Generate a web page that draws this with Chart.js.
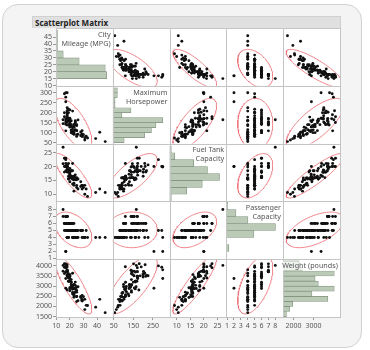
<!DOCTYPE html>
<html><head><meta charset="utf-8">
<script src="https://cdn.jsdelivr.net/npm/chart.js@4.4.1/dist/chart.umd.min.js"></script>
<style>
html,body{margin:0;padding:0;background:#fff;}
#wrap{position:relative;width:370px;height:350px;overflow:hidden;}
#frame{position:absolute;left:2px;top:4px;width:360px;height:344px;border:1px solid #d2d2d2;border-radius:16px;background:#f4f4f4;box-sizing:border-box;}
#title{position:absolute;left:32px;top:16px;width:309px;height:12px;background:#e0e0e0;border:1px solid #d0d0d0;border-bottom:none;box-sizing:border-box;font:bold 8px 'Noto Sans',sans-serif;color:#222;line-height:11px;padding-left:2px;}
canvas{position:absolute;left:0;top:0;}
</style></head>
<body><div id="wrap"><div id="frame"></div><div id="title">Scatterplot Matrix</div><canvas id="c" width="370" height="350"></canvas></div>
<script>
// ---- data (Cars, 93 models) ----
const mpgCity = [25,18,20,19,22,22,19,16,19,16,16,25,25,19,21,18,15,17,17,20,23,20,29,23,22,17,21,18,29,20,31,23,22,22,24,15,21,18,46,30,24,42,24,29,22,26,20,17,18,18,17,18,29,28,26,18,17,20,19,23,19,29,18,29,24,17,21,24,23,18,19,23,31,23,19,19,19,20,28,33,25,23,39,32,25,22,18,25,17,21,18,21,20];
const horsepower = [140,200,172,172,208,110,170,180,170,200,295,110,110,160,110,170,165,170,300,153,141,147,92,93,100,142,100,300,92,214,63,127,96,105,115,145,140,190,55,90,160,102,140,81,124,92,128,278,185,225,160,210,82,103,164,155,255,130,217,100,140,92,202,110,150,151,160,155,110,170,170,92,74,110,160,200,170,140,85,73,90,130,70,82,135,130,138,81,109,134,178,114,168];
const fuelTank = [13.2,18,16.9,21.1,21.1,16.4,18,23,18.8,18,20,15.2,15.6,15.5,16.5,20,27,23,20,18,16,16,13.2,14,16,20,16,19.8,13.2,18,10,13.2,15.9,15.4,15.5,21,16,20,10.6,12.4,15.9,11.9,17,11.9,13.7,11.9,17.2,22.5,18.5,20.6,18.4,20,13.2,14.5,15.5,19.6,20,14.5,18.5,11.1,18,13.2,19,13.2,15.9,20,18.5,15.2,16.5,20,18,15.9,13.2,15.2,15.5,16.5,18,18,12.8,9.2,15.9,15.9,10.6,11.9,15.9,18.5,19.8,12.4,21.1,18.5,18.5,15.8,19.3];
const passengers = [5,5,5,6,4,6,6,6,5,6,5,5,5,4,6,7,8,6,2,6,6,6,5,5,6,7,6,4,5,6,4,5,5,4,4,7,5,6,4,4,4,4,4,5,5,4,5,5,5,4,6,6,4,5,5,7,2,5,5,4,5,5,5,5,5,7,5,5,5,7,6,4,4,5,4,5,6,5,5,4,5,5,4,5,4,5,7,4,7,5,4,5,5];
const weight = [2705,3560,3375,3405,3640,2880,3470,4105,3495,3620,3935,2490,2785,3240,3195,3715,4025,3910,3380,3515,3085,3570,2270,2670,2970,3705,3080,3805,2295,3490,1845,2530,2690,2850,2710,3735,3325,3950,1695,2475,2865,2350,3040,2345,2620,2285,2885,4000,3510,3515,3695,4055,2325,2440,2970,3735,2895,2920,3525,2450,3610,2295,3730,2545,3200,4100,3200,2910,2890,3715,3470,2640,2350,2575,3240,3450,3495,2775,2495,2045,2490,3085,1965,2055,2950,3030,3785,2240,3960,2985,2810,2985,3245];

const diagLabels = [['City','Mileage (MPG)'],['Maximum','Horsepower'],['Fuel Tank','Capacity'],['Passenger','Capacity'],['Weight (pounds)']];

// tick labels
const mpgTicksY = [10,15,20,25,30,35,40,45];
const mpgTicksX = [10,20,30,40];
const hpTicksY = [50,100,150,200,250,300];
const hpTicksX = [50,150,250];
const fuelTicksY = [10,15,20,25];
const fuelTicksX = [10,15,20,25];
const passTicksY = [1,2,3,4,5,6,7,8];
const passTicksX = [1,2,3,4,5,6,7,8];
const weightTicksY = [1500,2000,2500,3000,3500,4000];
const weightTicksX = [2000,3000];

// histogram bins (start of bin) and counts
const mpgBins = [15,20,25,30,35,40,45];
const mpgCounts = [35,34,16,5,1,1,1];
const hpBins = [50,75,100,125,150,175,200,225,250,275,300];
const hpCounts = [5,14,17,19,22,4,8,1,1,2,2];
const fuelBins = [7.5,10,12.5,15,17.5,20,22.5,25];
const fuelCounts = [1,10,19,29,22,14,3,1];
const passBins = [2,3,4,5,6,7,8];
const passCounts = [2,0,23,41,18,8,1];
const weightBins = [1500,1750,2000,2250,2500,2750,3000,3250,3500,3750,4000];
const weightCounts = [1,2,3,14,9,16,11,10,16,6,5];
const binWidths = [5,25,2.5,1,250];

// ---- build ----
const vars = [mpgCity, horsepower, fuelTank, passengers, weight];
const ticksY = [mpgTicksY, hpTicksY, fuelTicksY, passTicksY, weightTicksY];
const ticksX = [mpgTicksX, hpTicksX, fuelTicksX, passTicksX, weightTicksX];
const hBins = [mpgBins, hpBins, fuelBins, passBins, weightBins];
const hCounts = [mpgCounts, hpCounts, fuelCounts, passCounts, weightCounts];
const ranges = [[9.8,51.6],[45,335],[7.4,28.3],[0.9,9.15],[1480,4330]];
const countMax = [39.2,25,33,47.5,17.8];

Chart.defaults.font.family = "'Noto Sans', sans-serif";

function ellipsePts(xv, yv){
  const n = xv.length;
  let mx=0,my=0; for(let i=0;i<n;i++){mx+=xv[i];my+=yv[i];} mx/=n; my/=n;
  let sxx=0,syy=0,sxy=0;
  for(let i=0;i<n;i++){const dx=xv[i]-mx, dy=yv[i]-my; sxx+=dx*dx; syy+=dy*dy; sxy+=dx*dy;}
  sxx/=(n-1); syy/=(n-1); sxy/=(n-1);
  const r = Math.sqrt(5.991), sx = Math.sqrt(sxx), q = Math.sqrt(Math.max(syy - sxy*sxy/sxx, 0));
  const pts=[];
  for(let k=0;k<=120;k++){
    const t = 2*Math.PI*k/120, a=Math.cos(t), b=Math.sin(t);
    pts.push({x: mx + r*sx*a, y: my + r*(sxy/sx*a + q*b)});
  }
  return pts;
}

const datasets = [];
for (let r=0;r<5;r++){
  for (let c=0;c<5;c++){
    if (r===c){
      datasets.push({
        type:'bar', indexAxis:'y', xAxisID:'c'+r, yAxisID:'y'+r,
        data: hBins[r].map((b,k)=>({x:hCounts[r][k], y:b+binWidths[r]/2})),
        backgroundColor:'#bacab6', borderColor:'#7f917c', borderWidth:0.7, borderSkipped:false,
        barPercentage:1, categoryPercentage:1, grouped:false, order:1
      });
    } else {
      datasets.push({
        type:'scatter', xAxisID:'x'+c, yAxisID:'y'+r,
        data: vars[c].map((v,k)=>({x:v, y:vars[r][k]})),
        pointRadius:1.45, pointBackgroundColor:'#111', pointBorderWidth:0, order:1
      });
      datasets.push({
        type:'scatter', xAxisID:'x'+c, yAxisID:'y'+r, showLine:true,
        data: ellipsePts(vars[c], vars[r]),
        pointRadius:0, borderColor:'rgba(236,110,118,0.85)', borderWidth:1, tension:0, clip:0, order:2
      });
    }
  }
}

const tickFont = {size:7, family:"'Noto Sans', sans-serif"};
const scales = {};
function yScale(i){
  const ty = ticksY[i];
  return {
    type:'linear', position:'left', stack:'left', stackWeight:1, axis:'y',
    min:ranges[i][0], max:ranges[i][1], offset:false,
    grid:{drawOnChartArea:false, drawTicks:true, tickLength:3, color:'#9a9a9a', offset:false},
    border:{display:false},
    ticks:{font:tickFont, color:'#555', padding:1, autoSkip:false, maxRotation:0, callback:(v)=>String(v)},
    afterBuildTicks:(s)=>{ s.ticks = ty.map(v=>({value:v})); },
    afterFit:(s)=>{ s.width = 24; }
  };
}
function xScale(i){
  const tx = ticksX[i];
  return {
    type:'linear', position:'bottom', stack:'bottom', stackWeight:1, axis:'x',
    min:ranges[i][0], max:ranges[i][1], offset:false,
    grid:{drawOnChartArea:false, drawTicks:true, tickLength:3, color:'#9a9a9a', offset:false},
    border:{display:false},
    ticks:{font:tickFont, color:'#555', padding:2, autoSkip:false, maxRotation:0, callback:(v)=>String(v)},
    afterBuildTicks:(s)=>{ s.ticks = tx.map(v=>({value:v})); },
    afterFit:(s)=>{ s.height = 16; }
  };
}
function cScale(i){
  return {type:'linear', position:'top', stack:'top', stackWeight:1, axis:'x', display:false,
    min:0, max:countMax[i], offset:false, grid:{offset:false}};
}
// left and top stacks are laid out in reverse order of definition
for (let i=0;i<5;i++) scales['x'+i] = xScale(i);
for (let i=4;i>=0;i--) scales['y'+i] = yScale(i);
for (let i=4;i>=0;i--) scales['c'+i] = cScale(i);

const cellPlugin = {
  id:'cells',
  beforeDraw(chart){
    const ctx = chart.ctx;
    ctx.save(); ctx.fillStyle = '#ffffff';
    for (let r=0;r<5;r++) for (let c=0;c<5;c++){
      const xs = chart.scales['x'+c], ys = chart.scales['y'+r];
      ctx.fillRect(xs.left, ys.top, xs.right-xs.left, ys.bottom-ys.top);
    }
    ctx.restore();
  },
  afterDatasetsDraw(chart){
    const ctx = chart.ctx;
    ctx.save();
    ctx.strokeStyle = '#c4c4c4'; ctx.lineWidth = 1;
    for (let r=0;r<5;r++) for (let c=0;c<5;c++){
      const xs = chart.scales['x'+c], ys = chart.scales['y'+r];
      const x0 = Math.round(xs.left)+0.5, x1 = Math.round(xs.right)+0.5;
      const y0 = Math.round(ys.top)+0.5, y1 = Math.round(ys.bottom)+0.5;
      ctx.strokeRect(x0, y0, x1-x0, y1-y0);
    }
    ctx.font = "7.2px 'Noto Sans', sans-serif";
    ctx.textAlign = 'right'; ctx.textBaseline = 'middle';
    for (let i=0;i<5;i++){
      const xs = chart.scales['x'+i], ys = chart.scales['y'+i];
      diagLabels[i].forEach((line,k)=>{
        const xr = xs.right - 2.2, yc = ys.top + 6.8 + k*9;
        const w = ctx.measureText(line).width;
        ctx.fillStyle = 'rgba(255,255,255,0.75)';
        ctx.fillRect(xr - w - 1, yc - 4.5, w + 2, 9);
        ctx.fillStyle = '#555';
        ctx.fillText(line, xr, yc);
      });
    }
    ctx.restore();
  }
};

new Chart(document.getElementById('c'), {
  type:'scatter',
  data:{datasets},
  options:{
    responsive:false, devicePixelRatio:1, animation:false, events:[],
    layout:{padding:{left:32, top:28, right:30, bottom:17}, autoPadding:false},
    plugins:{legend:{display:false}, tooltip:{enabled:false}},
    scales
  },
  plugins:[cellPlugin]
});
</script></body></html>
